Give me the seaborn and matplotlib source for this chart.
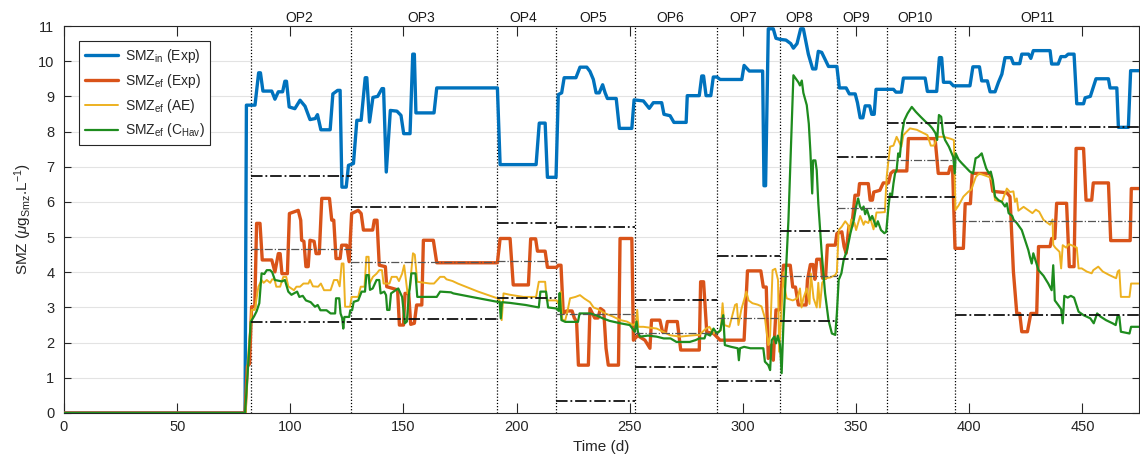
import numpy as np
import pandas as pd
import matplotlib
matplotlib.use("Agg")
import matplotlib.pyplot as plt
import matplotlib.transforms as mtransforms
import seaborn as sns

# ---------------- data ----------------
smz_in_exp = [(0,0),(80.0,0),(80.6,8.75),(84.4,8.75),(86.0,9.67),(86.8,9.67),(87.9,9.15),(91.8,9.15),(93.2,8.92),(94.7,9.13),(96.6,9.13),(97.6,9.43),(98.3,9.43),(99.5,8.7),(102,8.65),(104.3,8.89),(106.5,8.72),(108.7,8.34),(111,8.37),(112,8.48),(113.5,8.05),(117.6,8.05),(118.8,9.07),(120.9,9.17),(122,9.17),(122.8,6.42),(124.7,6.42),(125.7,7.04),(127.9,7.09),(129.4,8.32),(131.3,8.32),(133.1,9.53),(133.8,9.53),(135,8.27),(136.5,8.97),(138.6,9.0),(140.5,9.22),(141.2,9.22),(142.4,6.85),(144.2,8.6),(147.1,8.58),(148.9,8.46),(150.1,7.94),(152.9,7.94),(154.1,10.2),(154.8,10.2),(155.5,8.53),(163.5,8.53),(164.7,9.24),(191.5,9.24),(192.7,7.06),(208.6,7.06),(210,8.24),(212.6,8.24),(213.6,6.7),(217.4,6.7),(218.4,9.05),(219.9,9.1),(221,9.53),(226.2,9.53),(228,9.83),(231,9.83),(232.4,9.71),(233.9,9.48),(235.1,9.1),(236.5,9.1),(238,9.33),(239.1,9.1),(240.1,8.94),(244,8.94),(245.4,8.09),(250.9,8.09),(251.9,8.9),(256,8.87),(258.6,8.66),(260.4,8.82),(264.1,8.82),(265.1,8.49),(267.8,8.45),(269.5,8.26),(274.9,8.26),(275.4,9.02),(280.7,9.02),(281.8,9.58),(282.6,9.58),(283.7,9.02),(285.8,9.02),(286.9,9.55),(288.5,9.55),(289.9,9.48),(299.5,9.48),(300.5,9.88),(302.8,9.72),(308.7,9.72),(309.3,6.46),(310.0,6.46),(311.2,10.92),(313.4,10.92),(314.6,10.65),(316.4,10.62),(319,10.6),(321.1,10.5),(322.3,10.37),(323.9,10.5),(325.5,10.92),(326.7,10.92),(328.9,10.2),(330.8,9.78),(332.2,9.78),(333.3,10.28),(334.8,10.25),(336.3,10.05),(337.8,9.85),(341.5,9.85),(342.6,9.24),(345.6,9.24),(347,9.07),(349.6,9.07),(350.6,8.82),(351.8,8.39),(353,8.39),(354,8.73),(356,8.73),(356.9,8.49),(358,8.49),(358.8,9.2),(366.5,9.2),(367.6,9.12),(370,9.12),(370.9,9.52),(380.5,9.52),(381.5,9.14),(385.6,9.14),(386.8,10.1),(387.8,10.1),(388.6,9.4),(391.5,9.4),(393,9.3),(400.3,9.3),(401.6,9.84),(404.5,9.84),(405.5,9.44),(408,9.44),(409.2,9.13),(411.4,9.13),(412.9,9.4),(414.4,9.63),(415.8,10.1),(418.5,10.1),(419.5,9.93),(422.3,9.93),(423.2,10.2),(426.2,10.2),(427.2,10.08),(428.3,10.3),(435.7,10.3),(436.4,9.92),(439.3,9.92),(440.5,10.13),(442.5,10.13),(443.7,10.2),(446.3,10.2),(447.5,8.79),(450.5,8.79),(451.2,8.96),(453.5,9.0),(456,9.5),(461.5,9.5),(462.2,9.24),(465.2,9.24),(465.9,8.12),(470.3,8.12),(471.3,9.73),(475,9.73)]

smz_ef_exp = [(0,0),(80.0,0),(81.0,1.32),(82.0,1.4),(82.9,3.02),(84.3,3.02),(85.1,5.39),(86.6,5.39),(87.6,4.35),(91.8,4.35),(93.2,4.01),(94.7,4.53),(95.5,4.53),(96.3,3.96),(98.7,3.96),(99.6,5.67),(103.5,5.76),(104.6,5.48),(105,4.91),(106,4.88),(106.9,4.16),(107.9,4.16),(108.7,4.91),(110.5,4.88),(111.4,4.53),(112.8,4.53),(113.9,6.1),(117.3,6.1),(118.3,5.48),(119.2,5.48),(120.2,4.39),(122,4.39),(122.7,4.77),(124.9,4.77),(126,4.3),(127.1,5.67),(130,5.76),(131.3,5.67),(132.3,5.2),(136.4,5.2),(137.1,5.48),(138.3,5.48),(139.3,4.2),(142,4.16),(142.6,3.59),(147.4,3.5),(148.2,2.5),(150,2.5),(150.7,3.4),(152.3,3.4),(153.2,2.52),(154.8,2.55),(155.8,3.07),(158.1,3.07),(158.8,4.91),(163.2,4.91),(164.7,4.27),(191.5,4.27),(192.7,4.96),(197.1,4.96),(198.5,3.64),(205.2,3.64),(206.2,4.95),(208.4,4.95),(209.2,4.6),(212.6,4.6),(213.6,4.14),(217.7,4.14),(218.4,4.2),(219.6,4.2),(220.6,2.83),(222,2.9),(224.5,2.9),(225.5,2.7),(226.5,2.6),(227.3,1.36),(231.7,1.36),(232.4,2.97),(234.5,2.7),(236,2.7),(237,2.97),(238.5,2.9),(239.5,1.84),(240.5,1.36),(245,1.36),(245.7,4.96),(250.9,4.96),(251.6,2.07),(253.5,2.2),(256.7,2.07),(258.9,1.84),(259.6,2.64),(263.3,2.64),(264.5,2.3),(265.8,2.3),(266.6,2.6),(271,2.6),(272.5,1.79),(280.7,1.79),(281.3,3.73),(282.6,3.73),(284,2.3),(287,2.26),(289.9,2.07),(300.5,2.07),(302,4.04),(307.9,4.04),(309,3.58),(310.3,3.58),(311.2,1.55),(312.6,1.93),(313.4,1.5),(314.6,2.93),(316.1,2.93),(317.9,4.2),(320.9,4.2),(322,3.58),(323.2,3.58),(324.5,3.07),(327.9,3.07),(328.5,3.78),(329.8,4.22),(331,4.22),(331.8,3.8),(332.6,4.37),(334.4,4.37),(335.2,3.83),(336.5,3.83),(337.3,4.77),(340.8,4.77),(341.5,5.1),(343.7,5.15),(344.7,4.73),(345.6,4.54),(346.8,5.3),(348.1,5.3),(349.5,6.19),(351,6.19),(351.5,6.52),(355.4,6.52),(356.2,6.05),(357.2,6.05),(357.8,6.28),(360.5,6.33),(362,6.54),(364.3,6.54),(365.3,6.81),(366.5,6.88),(372.4,6.88),(373.1,7.8),(384.9,7.8),(386.3,6.81),(390.8,6.81),(391.6,7.0),(392.6,7.0),(393.7,4.68),(397.4,4.68),(398.2,5.95),(400.5,5.95),(401.3,6.81),(409.2,6.81),(410.4,6.3),(416.6,6.26),(418,6.15),(419.5,4.02),(421,2.83),(422.3,2.83),(423.2,2.31),(425.7,2.31),(427.2,2.83),(429.8,2.83),(430.6,4.73),(435.7,4.73),(436.4,4.96),(437.8,4.96),(438.6,5.96),(443,5.96),(444.2,4.16),(446.3,4.16),(447.2,7.52),(450.5,7.52),(451.6,6.05),(454.1,6.05),(454.8,6.54),(461.5,6.54),(462.5,4.9),(471.1,4.9),(471.6,6.38),(475,6.38)]

smz_ef_ae = [(0,0),(80.3,0),(81.2,1.5),(82.9,2.93),(84.3,2.93),(85.9,3.59),(87.3,3.78),(88.2,3.7),(89.6,3.78),(91.1,3.7),(92,3.8),(93,3.8),(93.8,3.59),(95.5,3.59),(96.9,3.87),(98.2,3.87),(99.1,3.6),(101.6,3.49),(102.7,3.59),(104.3,3.59),(105.8,3.68),(108,3.68),(108.7,3.78),(110,3.6),(112.3,3.59),(113.5,3.68),(114.9,3.49),(117.8,3.49),(119.3,3.78),(120.8,3.78),(121.8,3.6),(122.7,4.25),(123.5,4.25),(124.2,3.02),(126.4,3.02),(127.1,3.3),(130,3.3),(131.1,3.59),(132.8,3.59),(133.6,4.44),(134.6,4.44),(135,3.68),(136.5,3.87),(138.1,3.96),(139.3,4.06),(140.5,4.06),(141.2,3.68),(143.8,3.68),(144.8,3.87),(147,3.87),(148,3.75),(149.4,3.96),(150.3,4.2),(151.8,3.4),(152.9,3.54),(153.5,4.06),(154.2,4.54),(155,4.5),(156.1,3.73),(161.7,3.68),(163.5,3.68),(166.2,3.87),(168,3.87),(169,3.8),(171.7,3.75),(174,3.68),(183,3.45),(191.5,3.26),(192.5,3.2),(193.4,2.64),(194.2,3.4),(197.1,3.36),(203,3.3),(208.6,3.3),(209.8,3.73),(212.6,3.73),(213.3,3.2),(217.7,3.2),(218.6,3.1),(219.5,3.45),(220.2,2.64),(221.5,2.64),(222.5,2.9),(223.6,3.26),(226,3.3),(228,3.35),(230,3.25),(232.4,3.15),(234,3.0),(236,2.95),(239.1,2.83),(242.3,2.75),(245.8,2.64),(248.7,2.6),(251.5,2.5),(252.7,2.55),(253.3,2.93),(253.8,2.45),(256,2.45),(261.9,2.4),(267.8,2.21),(272.2,2.17),(276.5,2.2),(280.7,2.22),(283.7,2.4),(285.2,2.45),(287,2.26),(289.3,2.3),(290.2,2.35),(291,3.12),(291.8,2.5),(294,2.45),(296.5,3.07),(297.3,3.1),(298,2.5),(299.3,2.95),(300.5,3.21),(301.5,3.45),(302.5,3.2),(304.2,3.12),(306.5,3.08),(308.2,3.03),(309.7,2.7),(311.2,1.93),(312,2.2),(313.1,4.06),(314.3,4.1),(315.5,3.78),(316,1.74),(317.1,2.97),(317.9,4.0),(318.6,3.5),(319.3,3.26),(322,3.2),(324,3.26),(325.2,3.54),(325.9,3.0),(326.7,3.26),(328.2,3.54),(329.4,3.1),(330,3.96),(331.2,3.26),(332.6,3.0),(333.3,3.7),(334,3.0),(335,3.7),(336.3,3.83),(338.5,3.85),(340.8,3.92),(341.5,4.01),(342.3,5.2),(343.7,5.3),(345.2,5.45),(346.4,5.35),(347.1,5.1),(347.8,5.5),(349.3,5.4),(350,5.2),(351.8,5.6),(353.3,5.35),(354,5.45),(355.4,5.4),(356.2,5.55),(357.7,5.22),(359,5.7),(360.5,5.7),(362.7,5.71),(363.5,6.71),(365,7.57),(366.5,7.6),(367.9,7.85),(370,7.57),(370.9,7.9),(373.8,8.09),(376.8,8.05),(381.5,7.9),(383,7.6),(384.4,7.6),(385.9,7.85),(388.6,7.85),(391.5,7.8),(393.2,7.76),(393.9,5.77),(395.3,5.9),(397.4,6.15),(399.6,6.29),(400.9,6.35),(402.9,6.71),(404.4,6.81),(406.6,6.76),(408.7,6.71),(410.1,6.62),(411.4,6.05),(414.4,6.0),(416.6,6.38),(418,6.28),(419.5,6.3),(420.2,6.0),(421,6.1),(421.7,5.75),(424,5.86),(427.9,5.68),(429.4,5.78),(430.9,5.72),(432.8,5.49),(435.7,5.35),(436.8,5.5),(437.1,4.78),(438,4.7),(439.9,4.58),(440.6,4.11),(441.3,4.77),(442.8,4.7),(444,4.8),(445.9,4.75),(447.5,4.7),(448.3,4.11),(449.7,4.11),(451.9,4.02),(454.1,3.97),(454.8,4.06),(457,4.16),(459,4.02),(461.9,3.92),(464.9,3.83),(465.6,4.02),(466.3,4.06),(467,3.3),(470.8,3.3),(471.5,3.68),(475,3.68)]

smz_ef_chav = [(0,0),(80.0,0),(81.7,1.7),(82.5,2.59),(84,2.75),(85.1,2.89),(86.3,3.12),(87.3,3.97),(88.5,3.95),(89.6,4.06),(91.1,4.06),(92,4.0),(93.2,3.78),(96.3,3.74),(97.6,3.78),(99.1,3.45),(100.5,3.36),(101.6,3.4),(103,3.45),(104,3.3),(105.5,3.33),(106.9,3.2),(109,3.15),(110.9,3.02),(112.1,3.07),(113.3,2.92),(116,2.92),(117.8,2.83),(119.8,2.83),(120.2,3.26),(121.6,3.26),(122.2,2.83),(122.9,2.7),(123.4,2.4),(123.9,2.73),(126,2.73),(126.5,2.92),(127.3,2.92),(128,3.16),(130,3.2),(131.5,3.45),(133,3.45),(133.6,3.92),(134.6,3.92),(135.2,3.5),(136.4,3.54),(138.1,3.78),(139.3,3.78),(139.9,3.4),(141.5,3.45),(142.3,3.35),(142.8,2.93),(143.8,2.93),(144.5,3.4),(147.7,3.54),(149.4,3.3),(150.6,2.55),(151.5,2.6),(152.3,3.3),(153.5,3.97),(155.3,3.97),(156.1,3.3),(164.7,3.3),(166.2,3.45),(171,3.43),(172,3.4),(180,3.3),(191.5,3.16),(192.5,3.16),(193,2.69),(193.5,3.15),(197,3.13),(204,3.07),(209.8,3.0),(210.5,3.45),(213,3.45),(213.9,3.0),(217.7,2.97),(218.6,2.9),(219,3.41),(219.8,2.64),(221.5,2.59),(227.1,2.59),(227.8,2.83),(232.4,2.83),(235,2.78),(238.1,2.69),(241,2.62),(245.8,2.55),(250,2.5),(252.2,2.31),(253,2.6),(253.6,2.3),(254.5,2.17),(258,2.2),(261.9,2.17),(265,2.12),(268,2.12),(270.6,2.02),(276.5,2.02),(279,2.07),(280.7,2.12),(283,2.12),(283.7,2.26),(285.5,2.2),(287,2.4),(288.5,2.26),(290,2.35),(291.3,2.78),(292,1.93),(294.8,1.88),(297.7,1.84),(298.2,1.5),(298.7,1.84),(300.5,1.88),(303.3,1.84),(309,1.84),(309.7,1.46),(311.2,1.36),(312,1.22),(312.7,2.07),(313.9,2.17),(314.6,1.98),(315.4,2.2),(316.4,1.93),(317.1,1.13),(317.9,2.55),(320.1,5.48),(321.6,8.32),(322.3,9.6),(323.8,9.46),(324.5,9.4),(325.2,9.31),(326,9.45),(326.7,9.1),(328.2,8.75),(329.1,8.22),(329.8,7.43),(330.6,6.24),(331,7.18),(332,7.18),(332.6,6.9),(333.3,5.96),(334.8,4.54),(336.3,3.4),(337.8,2.64),(339.3,2.26),(340.8,2.22),(341.5,2.83),(342.3,3.78),(343.5,3.97),(344.5,4.35),(346,4.63),(347.5,5.11),(349,5.49),(350,5.87),(350.9,6.1),(351.7,5.87),(352.6,5.78),(353.3,5.87),(354,5.65),(354.8,5.78),(356.2,5.49),(357.1,5.6),(358.8,5.3),(359.6,5.45),(361,5.2),(362.5,5.11),(363.3,5.15),(364.3,5.87),(365,6.24),(365.8,6.15),(366.5,6.52),(367.2,6.81),(367.9,6.9),(368.6,7.38),(369.3,7.28),(370.3,7.95),(371.3,8.32),(372.7,8.51),(374.6,8.7),(376.4,8.56),(378.5,8.42),(380.7,8.28),(382.2,8.2),(383.7,8.09),(385.1,7.95),(385.8,7.76),(386.6,8.47),(387.6,8.42),(388.4,7.95),(389.3,7.76),(391,7.57),(392.9,7.28),(393.6,6.81),(394,7.38),(395.3,7.2),(396.7,7.1),(398.2,7.0),(400.3,6.86),(401.7,6.81),(402.8,7.24),(404,7.28),(405.5,7.38),(406.3,7.2),(407.5,6.95),(408.7,6.81),(409.5,6.86),(410.4,6.62),(411.4,6.15),(412.9,6.05),(414.4,6.0),(415.8,5.87),(416.6,5.96),(417.4,5.68),(419,5.6),(419.6,5.49),(421,5.4),(423.2,5.2),(424.7,4.9),(426.1,4.63),(426.8,4.44),(427.6,4.25),(428.3,4.54),(430.6,4.06),(432.8,3.9),(434.9,3.68),(436.4,3.49),(437.1,4.2),(437.8,3.2),(439.3,3.07),(440.6,2.95),(441.3,2.55),(442,3.33),(443.5,3.28),(444.9,3.33),(446.3,3.28),(448.3,2.88),(450.5,2.78),(453.5,2.69),(455,2.55),(456.5,2.83),(458,2.74),(460.4,2.64),(463.3,2.55),(464.7,2.5),(465.6,2.78),(466.3,2.74),(467,2.31),(470.8,2.26),(471.5,2.45),(475,2.45)]

# operating periods
op_names = ["OP2", "OP3", "OP4", "OP5", "OP6", "OP7", "OP8", "OP9", "OP10", "OP11"]
op_start = [82.5, 127, 191.5, 217.5, 252.5, 288.5, 316.5, 341.5, 363.5, 393.5]
op_end = [127, 191.5, 217.5, 252.5, 288.5, 316.5, 341.5, 363.5, 393.5, 475]
op_label_x = [104, 158, 203, 234, 268, 300, 325, 350, 376, 430]
op_upper = [6.75, 5.86, 5.41, 5.29, 3.21, 4.46, 5.17, 7.28, 8.23, 8.12]
op_middle = [4.67, 4.28, 4.32, 2.81, 2.26, 2.69, 3.89, 5.82, 7.19, 5.45]
op_lower = [2.6, 2.67, 3.26, 0.34, 1.32, 0.91, 2.62, 4.37, 6.15, 2.78]

x_ticks = [0, 50, 100, 150, 200, 250, 300, 350, 400, 450]
y_ticks = list(range(0, 12))

# ---------------- styling ----------------
sns.set_style("ticks")
plt.rcParams["font.family"] = ["Liberation Sans", "DejaVu Sans"]
plt.rcParams["mathtext.fontset"] = "custom"
plt.rcParams["mathtext.rm"] = "Liberation Sans"
plt.rcParams["mathtext.it"] = "Liberation Sans:italic"
plt.rcParams["mathtext.bf"] = "Liberation Sans:bold"

fig = plt.figure(figsize=(11.4, 4.62), dpi=100)
ax = fig.add_axes([64 / 1140, 49 / 462, 1075 / 1140, 387 / 462])

series = [
    (smz_in_exp, "#0072BD", 2.4, r"SMZ$_{\rm in}$ (Exp)"),
    (smz_ef_exp, "#D95319", 2.4, r"SMZ$_{\rm ef}$ (Exp)"),
    (smz_ef_ae, "#EDB120", 1.4, r"SMZ$_{\rm ef}$ (AE)"),
    (smz_ef_chav, "#1E8C1E", 1.6, r"SMZ$_{\rm ef}$ (C$_{\rm Hav}$)"),
]

ax.set_axisbelow(True)
ax.yaxis.grid(True, color="#e3e3e3", linewidth=0.8)
ax.xaxis.grid(False)

handles = []
for pts, color, lw, label in series:
    t, v = zip(*pts)
    df = pd.DataFrame({"t": t, "v": v})
    sns.lineplot(data=df, x="t", y="v", ax=ax, color=color, linewidth=lw,
                 sort=False, estimator=None, label=label, zorder=3)
    handles.append(ax.lines[-1])

# OP boundaries
for xs in op_start:
    ax.axvline(xs, color="black", linestyle=(0, (1, 1.5)), linewidth=0.9, zorder=2)

# predicted ranges
for s, e, up, mid, lo in zip(op_start, op_end, op_upper, op_middle, op_lower):
    ax.hlines([up, lo], s, e, colors="#111111", linestyles="-.", linewidth=1.3, zorder=4)
    ax.hlines([mid], s, e, colors="#555555", linestyles="-.", linewidth=0.9, zorder=4)

# OP labels above axes
trans = mtransforms.blended_transform_factory(ax.transData, ax.transAxes)
for name, xl in zip(op_names, op_label_x):
    ax.text(xl, 1.011, name, transform=trans, ha="center", va="baseline",
            fontsize=10, color="#1a1a1a")

ax.set_xlim(0, 475)
ax.set_ylim(0, 11)
ax.set_xticks(x_ticks)
ax.set_yticks(y_ticks)
ax.tick_params(axis="both", direction="in", top=True, right=True,
               labelsize=10.5, colors="#262626", width=0.8)
ax.tick_params(axis="x", length=7, pad=5)
ax.tick_params(axis="y", length=5, pad=7)
for sp in ax.spines.values():
    sp.set_color("#262626")
    sp.set_linewidth(0.8)
    sp.set_visible(True)

ax.set_xlabel("Time (d)", fontsize=11, color="#262626", labelpad=4)
ax.set_ylabel(r"SMZ ($\mu$g$_{\rm Smz}$.L$^{-1}$)", fontsize=11, color="#262626", labelpad=3)

leg = ax.legend(handles=handles, labels=[s[3] for s in series], loc="upper left",
                bbox_to_anchor=(0.014, 0.961), borderaxespad=0, fontsize=10,
                frameon=True, fancybox=False, edgecolor="#262626", framealpha=1,
                handlelength=2.4, borderpad=0.4, labelspacing=0.5,
                handletextpad=0.5)
leg.get_frame().set_linewidth(0.8)
leg.set_zorder(10)

fig.savefig("out.png", dpi=100)
